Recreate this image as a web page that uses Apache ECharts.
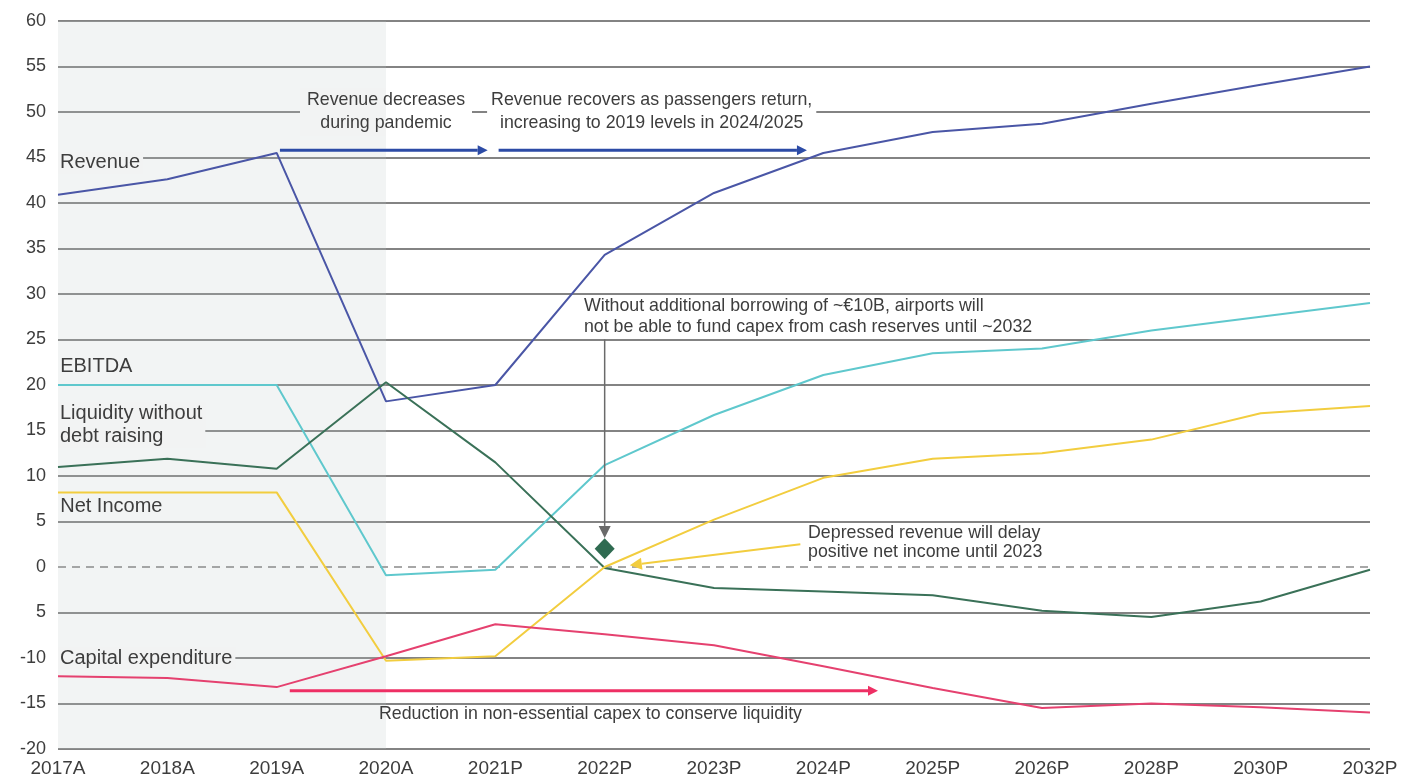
<!DOCTYPE html>
<html><head><meta charset="utf-8">
<script src="https://cdn.jsdelivr.net/npm/echarts@6/dist/echarts.min.js"></script>
<style>html,body{margin:0;padding:0;background:#fff}#c{width:1413px;height:779px}</style>
</head><body><div id="c"></div>
<script>
const categories = ['2017A','2018A','2019A','2020A','2021P','2022P','2023P','2024P','2025P','2026P','2028P','2030P','2032P'];
const revenue   = [40.9, 42.6, 45.5, 18.2, 20.0, 34.3, 41.1, 45.5, 47.8, 48.7, 50.9, 53.0, 55.0];
const ebitda    = [20.0, 20.0, 20.0, -0.9, -0.3, 11.2, 16.7, 21.1, 23.5, 24.0, 26.0, 27.5, 29.0];
const liquidity = [11.0, 11.9, 10.8, 20.3, 11.5, -0.1, -2.3, -2.7, -3.1, -4.8, -5.5, -3.8, -0.3];
const netIncome = [8.2, 8.2, 8.2, -10.3, -9.8, 0.0, 5.2, 9.8, 11.9, 12.5, 14.0, 16.9, 17.7];
const capex     = [-12.0, -12.2, -13.2, -9.8, -6.3, -7.4, -8.6, -10.9, -13.3, -15.5, -15.0, -15.4, -16.0];
const liquidityMarker = ['2022P', 2.0];
const yMin = -20, yMax = 60, yStep = 5;

const FONT = "'Liberation Sans', Arial, sans-serif";
const TXT = '#3d3d3d';
const SHADE = '#f2f3f3';
const gridColors = [];
for (let v = yMin; v <= yMax; v += yStep) gridColors.push(v === 0 ? 'rgba(0,0,0,0)' : '#5a5a5a');

const chart = echarts.init(document.getElementById('c'));
function line(name, data, color) {
  return { name, type: 'line', data, symbol: 'none', smooth: false, z: 5,
    lineStyle: { color, width: 2 }, itemStyle: { color } };
}
chart.setOption({
  animation: false,
  grid: { left: 58, right: 43, top: 21, bottom: 30 },
  xAxis: { type: 'category', data: categories, boundaryGap: false,
    axisLine: { show: false }, axisTick: { show: false },
    axisLabel: { color: TXT, fontSize: 19, fontFamily: FONT, margin: 10 } },
  yAxis: { type: 'value', min: yMin, max: yMax, interval: yStep,
    axisLine: { show: false }, axisTick: { show: false },
    axisLabel: { color: TXT, fontSize: 18, fontFamily: FONT, margin: 12,
      formatter: v => (v === -5 ? '5' : String(v)) },
    splitLine: { lineStyle: { color: gridColors, width: 1.5 } } },
  series: [
    Object.assign(line('Revenue', revenue, '#4a56a6'), {
      markArea: { silent: true, itemStyle: { color: 'rgba(190,198,198,0.2)' },
        data: [[{ xAxis: '2017A' }, { xAxis: '2020A' }]] },
      markLine: { silent: true, symbol: 'none', label: { show: false },
        lineStyle: { color: '#8a8a8a', type: [8, 6], width: 1.5 },
        data: [{ yAxis: 0 }] } }),
    line('EBITDA', ebitda, '#5fc8cd'),
    Object.assign(line('Liquidity without debt raising', liquidity, '#3a7158'), {
      markPoint: { symbol: 'diamond', symbolSize: [20, 21], silent: true,
        itemStyle: { color: '#2f6b51' }, label: { show: false },
        data: [{ coord: liquidityMarker }] } }),
    line('Net Income', netIncome, '#f2cd3f'),
    line('Capital expenditure', capex, '#e5416f')
  ]
});

// pixel position for fractional category index
function P(i, v) {
  const i0 = Math.min(Math.floor(i), categories.length - 2), f = i - i0;
  const a = chart.convertToPixel({ gridIndex: 0 }, [i0, v]);
  const b = chart.convertToPixel({ gridIndex: 0 }, [i0 + 1, v]);
  return [a[0] + (b[0] - a[0]) * f, a[1]];
}
function arrow(a, b, color, w, head) {
  const dx = b[0] - a[0], dy = b[1] - a[1], L = Math.hypot(dx, dy);
  const ux = dx / L, uy = dy / L, hl = head || 10, hw = hl * 0.5;
  const bs = [b[0] - ux * hl, b[1] - uy * hl];
  return [
    { type: 'line', z: 50, shape: { x1: a[0], y1: a[1], x2: bs[0], y2: bs[1] },
      style: { stroke: color, lineWidth: w } },
    { type: 'polygon', z: 50, shape: { points: [b, [bs[0] - uy * hw, bs[1] + ux * hw], [bs[0] + uy * hw, bs[1] - ux * hw]] },
      style: { fill: color } }
  ];
}
const AF = '17.8px ' + FONT;
function text(str, p, opts) {
  return { type: 'text', z: 60, x: p[0], y: p[1],
    style: Object.assign({ text: str, fill: TXT, font: AF, align: 'left', verticalAlign: 'middle', lineHeight: 22 }, opts || {}) };
}
const g = [];
const t1c = P(3.0, 50);
const shadeEnd = P(3, 0)[0];
const t1w = 172, t1x = t1c[0] - t1w / 2;
const sf = (shadeEnd - t1x) / t1w;
g.push({ type: 'rect', z: 55, shape: { x: t1x, y: t1c[1] - 24, width: t1w, height: 48 },
  style: { fill: { type: 'linear', x: 0, y: 0, x2: 1, y2: 0, colorStops: [
    { offset: 0, color: SHADE }, { offset: sf, color: SHADE },
    { offset: sf, color: '#fff' }, { offset: 1, color: '#fff' }] } } });
g.push(text('Revenue decreases\nduring pandemic', t1c, { align: 'center', lineHeight: 23 }));
g.push(text('Revenue recovers as passengers return,\nincreasing to 2019 levels in 2024/2025', P(5.43, 50),
  { align: 'center', lineHeight: 23, backgroundColor: '#fff', padding: [2, 4] }));
g.push(...arrow(P(2.03, 45.8), P(3.93, 45.8), '#2c4ba6', 3, 10));
g.push(...arrow(P(4.03, 45.8), P(6.85, 45.8), '#2c4ba6', 3, 10));
g.push(text('Without additional borrowing of ~€10B, airports will\nnot be able to fund capex from cash reserves until ~2032', P(4.81, 27.5), { lineHeight: 21 }));
g.push(...arrow(P(5.0, 25.0), P(5.0, 3.2), '#6a6a6a', 1.5, 12));
g.push(text('Depressed revenue will delay\npositive net income until 2023', P(6.86, 2.7), { lineHeight: 19 }));
g.push(...arrow(P(6.79, 2.5), P(5.23, 0.2), '#f2cd3f', 2, 12));
g.push(...arrow(P(2.12, -13.6), P(7.5, -13.6), '#ee2f64', 3, 10));
g.push(text('Reduction in non-essential capex to conserve liquidity', P(4.87, -16.2), { align: 'center' }));
// series labels
const LF = '20px ' + FONT;
g.push(text('Revenue', P(0.0, 44.4), { font: LF, backgroundColor: SHADE, padding: [0, 3, 0, 2] }));
g.push(text('EBITDA', P(0.02, 22.0), { font: LF }));
g.push(text('Liquidity without\ndebt raising', P(0.0, 15.6), { font: LF, lineHeight: 23, backgroundColor: SHADE, padding: [0, 3, 0, 2] }));
g.push(text('Net Income', P(0.02, 6.6), { font: LF }));
g.push(text('Capital expenditure', P(0.0, -10.0), { font: LF, backgroundColor: SHADE, padding: [0, 3, 0, 2] }));
chart.setOption({ graphic: g });
</script></body></html>
